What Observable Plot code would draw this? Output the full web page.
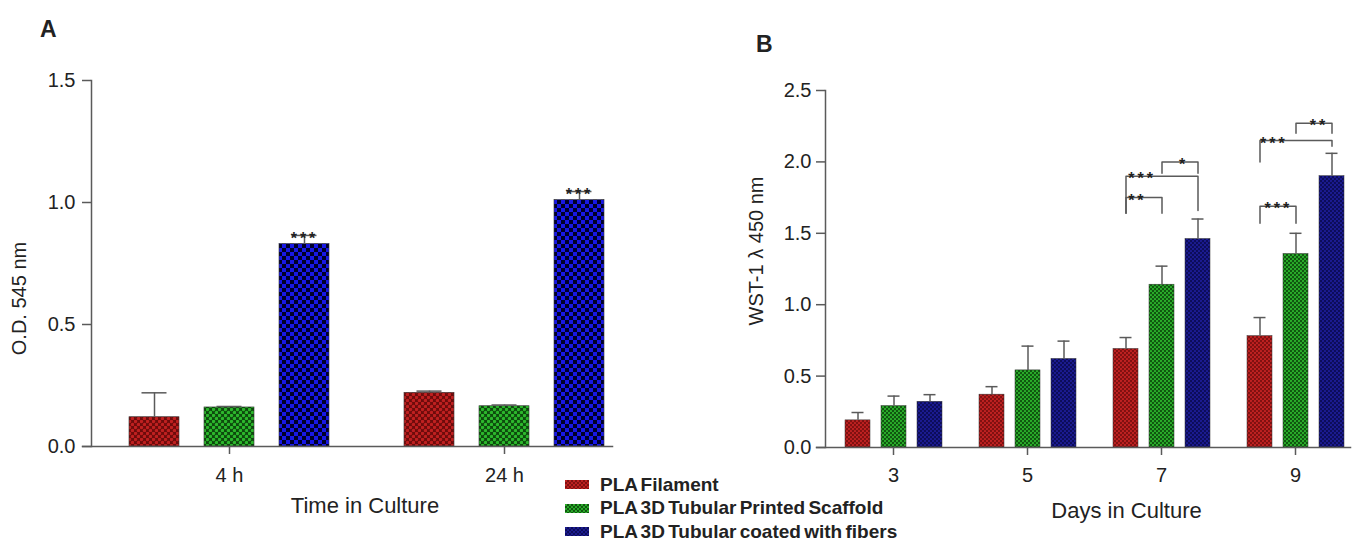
<!DOCTYPE html>
<html>
<head>
<meta charset="utf-8">
<script src="https://cdn.jsdelivr.net/npm/d3@7"></script>
<script src="https://cdn.jsdelivr.net/npm/@observablehq/plot@0.6"></script>
<style>
  body { margin: 0; background: #fff; }
  #fig { position: relative; width: 1354px; height: 541px; overflow: hidden; background: #fff;
         font-family: "Liberation Sans", Arial, sans-serif; color: #222; }
  #fig > svg.chart { position: absolute; top: 0; overflow: visible; }
  .panel { position: absolute; font-weight: bold; font-size: 23px; line-height: 1; }
  #legend { position: absolute; left: 565px; top: 473px; font-weight: bold; font-size: 19px; word-spacing: -2px; }
  #legend .row { display: flex; align-items: center; height: 23.5px; }
  #legend svg { margin-right: 11px; }
  .stars text { letter-spacing: 3px; }
</style>
</head>
<body>
<div id="fig">
  <svg width="0" height="0" style="position:absolute">
    <defs>
      <pattern id="pRedA" width="6" height="6" patternUnits="userSpaceOnUse">
        <rect width="6" height="6" fill="#6e0b0b"/>
        <circle cx="1.5" cy="1.5" r="1.7" fill="#c02020"/>
        <circle cx="4.5" cy="4.5" r="1.7" fill="#c02020"/>
      </pattern>
      <pattern id="pGreenA" width="6" height="6" patternUnits="userSpaceOnUse">
        <rect width="6" height="6" fill="#0d4a0d"/>
        <circle cx="1.5" cy="1.5" r="1.7" fill="#2cb82c"/>
        <circle cx="4.5" cy="4.5" r="1.7" fill="#2cb82c"/>
      </pattern>
      <pattern id="pBlueA" width="8" height="8" patternUnits="userSpaceOnUse">
        <rect width="8" height="8" fill="#00002a"/>
        <rect x="0" y="0" width="4" height="4" fill="#1818e6"/>
        <rect x="4" y="4" width="4" height="4" fill="#1818e6"/>
      </pattern>
      <pattern id="pRedB" width="4" height="4" patternUnits="userSpaceOnUse">
        <rect width="4" height="4" fill="#801010"/>
        <circle cx="1" cy="1" r="1.1" fill="#c42222"/>
        <circle cx="3" cy="3" r="1.1" fill="#c42222"/>
      </pattern>
      <pattern id="pGreenB" width="4" height="4" patternUnits="userSpaceOnUse">
        <rect width="4" height="4" fill="#0f560f"/>
        <circle cx="1" cy="1" r="1.1" fill="#2cb42c"/>
        <circle cx="3" cy="3" r="1.1" fill="#2cb42c"/>
      </pattern>
      <pattern id="pBlueB" width="4" height="4" patternUnits="userSpaceOnUse">
        <rect width="4" height="4" fill="#0c0c5a"/>
        <circle cx="1" cy="1" r="1.1" fill="#1c1c96"/>
        <circle cx="3" cy="3" r="1.1" fill="#1c1c96"/>
      </pattern>
    </defs>
  </svg>
  <div class="panel" style="left:40px;top:18px">A</div>
  <div class="panel" style="left:756px;top:33px">B</div>
  <div id="legend"></div>
</div>
<script>
// ---------- data ----------
const seriesNames = ["PLA Filament", "PLA 3D Tubular Printed Scaffold", "PLA 3D Tubular coated with fibers"];

// Panel A: O.D. 545 nm vs time in culture
const timePoints = ["4 h", "24 h"];
const odFilament    = [0.12, 0.22];
const odFilamentErr = [0.10, 0.007];
const odScaffold    = [0.16, 0.165];
const odScaffoldErr = [0.004, 0.005];
const odFibers      = [0.83, 1.01];
const odFibersErr   = [0.035, 0.035];
const odFibersSignif = ["***", "***"];

// Panel B: WST-1 450 nm vs days in culture
const days = ["3", "5", "7", "9"];
const wstFilament    = [0.19, 0.37, 0.69, 0.78];
const wstFilamentErr = [0.055, 0.056, 0.08, 0.13];
const wstScaffold    = [0.29, 0.54, 1.14, 1.355];
const wstScaffoldErr = [0.07, 0.17, 0.13, 0.145];
const wstFibers      = [0.32, 0.62, 1.46, 1.90];
const wstFibersErr   = [0.05, 0.125, 0.14, 0.16];

// Panel B significance brackets
const bracketDay     = ["7", "7", "7", "9", "9", "9"];
const bracketFrom    = [0, 0, 1, 0, 0, 1];
const bracketTo      = [1, 2, 2, 1, 2, 2];
const bracketTop     = [1.75, 1.90, 2.00, 1.69, 2.15, 2.27];
const bracketLegFrom = [1.64, 1.64, 1.92, 1.57, 2.00, 2.20];
const bracketLegTo   = [1.64, 1.66, 1.92, 1.57, 2.11, 2.20];
const bracketLabel   = ["**", "***", "*", "***", "***", "**"];

// ---------- styling ----------
const FONT = '"Liberation Sans", Arial, sans-serif';
const AXIS = "#5a5a5a";
const ERR = "#5a5a5a";
const patA = ["url(#pRedA)", "url(#pGreenA)", "url(#pBlueA)"];
const patB = ["url(#pRedB)", "url(#pGreenB)", "url(#pBlueB)"];
const labelFrac = [0.27, 0.2, 0.55, 0.46, 0.17, 0.59]; // where the stars sit along each bracket
const BAR_STEP_B = 36.5;
const GAP_A = 38;   // space between the y axis and the first bar group (px)
const GAP_B = 19;

// ---------- build tables ----------
const aVals = [odFilament, odScaffold, odFibers];
const aErrs = [odFilamentErr, odScaffoldErr, odFibersErr];
const dataA = timePoints.flatMap((t, i) => seriesNames.map((s, j) => ({
  time: t, series: s, value: aVals[j][i], err: aErrs[j][i],
  signif: j === 2 ? odFibersSignif[i] : ""
})));

const bVals = [wstFilament, wstScaffold, wstFibers];
const bErrs = [wstFilamentErr, wstScaffoldErr, wstFibersErr];
const dataB = days.flatMap((d, i) => seriesNames.map((s, j) => ({
  day: d, series: s, value: bVals[j][i], err: bErrs[j][i]
})));

const bracketPts = bracketDay.flatMap((d, i) => [
  {id: i, day: d, s: seriesNames[bracketFrom[i]], v: bracketLegFrom[i]},
  {id: i, day: d, s: seriesNames[bracketFrom[i]], v: bracketTop[i]},
  {id: i, day: d, s: seriesNames[bracketTo[i]], v: bracketTop[i]},
  {id: i, day: d, s: seriesNames[bracketTo[i]], v: bracketLegTo[i]}
]);

// ---------- panel A ----------
const chartA = Plot.plot({
  width: 625, height: 541,
  marginTop: 80, marginBottom: 95, marginLeft: 91, marginRight: 10,
  style: {fontFamily: FONT, color: "#222", background: "transparent", overflow: "visible"},
  fx: {domain: timePoints, paddingInner: 0.2727, paddingOuter: 0.089, align: 0.776, label: null},
  x: {domain: seriesNames, paddingInner: 1 / 3, paddingOuter: 0, axis: null},
  y: {domain: [0, 1.5]},
  color: {domain: seriesNames, range: patA},
  marks: [
    Plot.barY(dataA, {fx: "time", x: "series", y: "value", fill: "series", stroke: "#333", strokeWidth: 0.6}),
    Plot.ruleX(dataA, {fx: "time", x: "series", y1: "value", y2: d => d.value + d.err, stroke: ERR, strokeWidth: 1.5}),
    Plot.tickY(dataA, {fx: "time", x: "series", y: d => d.value + d.err, stroke: ERR, strokeWidth: 1.5, insetLeft: 12.5, insetRight: 12.5}),
    Plot.text(dataA.filter(d => d.signif), {fx: "time", x: "series", y: d => d.value + d.err, text: "signif",
      fontSize: 16, fontWeight: "bold", lineAnchor: "middle", dy: 3, className: "stars"}),
    Plot.frame({anchor: "bottom", facet: "super", stroke: AXIS, strokeWidth: 1.5, insetLeft: -(GAP_A + 9), insetRight: -8}),
    Plot.frame({anchor: "left", facet: "super", stroke: AXIS, strokeWidth: 1.5, insetLeft: -GAP_A}),
    Plot.axisY({ticks: [0, 0.5, 1, 1.5], tickFormat: d3.format(".1f"), tickSize: 9, tickPadding: 7, dx: -GAP_A,
      fontSize: 20, label: null, stroke: AXIS, strokeWidth: 1.5}),
    Plot.axisFx({anchor: "bottom", tickSize: 8, tickPadding: 13, fontSize: 20, label: null, stroke: AXIS, strokeWidth: 1.5}),
    Plot.text(["Time in Culture"], {facet: "super", frameAnchor: "bottom", text: d => d, fontSize: 22,
      lineAnchor: "middle", textAnchor: "middle", dx: -2, dy: 59}),
    Plot.text(["O.D. 545 nm"], {facet: "super", frameAnchor: "left", text: d => d, fontSize: 20, rotate: -90,
      lineAnchor: "middle", textAnchor: "middle", dx: -110, dy: 35})
  ]
});

// ---------- panel B ----------
const chartB = Plot.plot({
  width: 654, height: 541,
  marginTop: 90, marginBottom: 94, marginLeft: 124, marginRight: 4,
  style: {fontFamily: FONT, color: "#222", background: "transparent", overflow: "visible"},
  fx: {domain: days, paddingInner: 0.2714, paddingOuter: 0.0912, align: 0.775, label: null},
  x: {domain: seriesNames, paddingInner: 0.315, paddingOuter: 0, axis: null},
  y: {domain: [0, 2.5]},
  color: {domain: seriesNames, range: patB},
  marks: [
    Plot.barY(dataB, {fx: "day", x: "series", y: "value", fill: "series", stroke: "#333", strokeWidth: 0.5}),
    Plot.ruleX(dataB, {fx: "day", x: "series", y1: "value", y2: d => d.value + d.err, stroke: ERR, strokeWidth: 1.5}),
    Plot.tickY(dataB, {fx: "day", x: "series", y: d => d.value + d.err, stroke: ERR, strokeWidth: 1.5, insetLeft: 6.5, insetRight: 6.5}),
    Plot.line(bracketPts, {fx: "day", x: "s", y: "v", z: "id", stroke: ERR, strokeWidth: 1.5}),
    ...bracketLabel.map((lab, i) => Plot.text([i], {
      fx: () => bracketDay[i], x: () => seriesNames[bracketFrom[i]], y: () => bracketTop[i], text: () => lab,
      fontSize: 16, fontWeight: "bold", lineAnchor: "middle", className: "stars",
      dx: labelFrac[i] * (bracketTo[i] - bracketFrom[i]) * BAR_STEP_B + 1.5, dy: 3
    })),
    Plot.frame({anchor: "bottom", facet: "super", stroke: AXIS, strokeWidth: 1.5, insetLeft: -(GAP_B + 9), insetRight: -6}),
    Plot.frame({anchor: "left", facet: "super", stroke: AXIS, strokeWidth: 1.5, insetLeft: -GAP_B}),
    Plot.axisY({ticks: [0, 0.5, 1, 1.5, 2, 2.5], tickFormat: d3.format(".1f"), tickSize: 9, tickPadding: 5, dx: -GAP_B,
      fontSize: 20, label: null, stroke: AXIS, strokeWidth: 1.5}),
    Plot.axisFx({anchor: "bottom", tickSize: 8, tickPadding: 12, fontSize: 20, label: null, stroke: AXIS, strokeWidth: 1.5}),
    Plot.text(["Days in Culture"], {facet: "super", frameAnchor: "bottom", text: d => d, fontSize: 22,
      lineAnchor: "middle", textAnchor: "middle", dx: 32, dy: 63}),
    Plot.text(["WST-1 λ 450 nm"], {facet: "super", frameAnchor: "left", text: d => d, fontSize: 20, rotate: -90,
      lineAnchor: "middle", textAnchor: "middle", dx: -88, dy: -18})
  ]
});

const fig = document.getElementById("fig");
chartA.classList.add("chart"); chartA.style.left = "0px";
chartB.classList.add("chart"); chartB.style.left = "700px";
fig.insertBefore(chartB, fig.querySelector(".panel"));
fig.insertBefore(chartA, chartB);

// ---------- legend ----------
const legend = document.getElementById("legend");
seriesNames.forEach((name, i) => {
  const row = document.createElement("div");
  row.className = "row";
  row.innerHTML = `<svg width="24" height="9"><rect width="24" height="9" fill="${patB[i]}"/></svg>`;
  const span = document.createElement("span");
  span.textContent = name;
  row.appendChild(span);
  legend.appendChild(row);
});
</script>
</body>
</html>
